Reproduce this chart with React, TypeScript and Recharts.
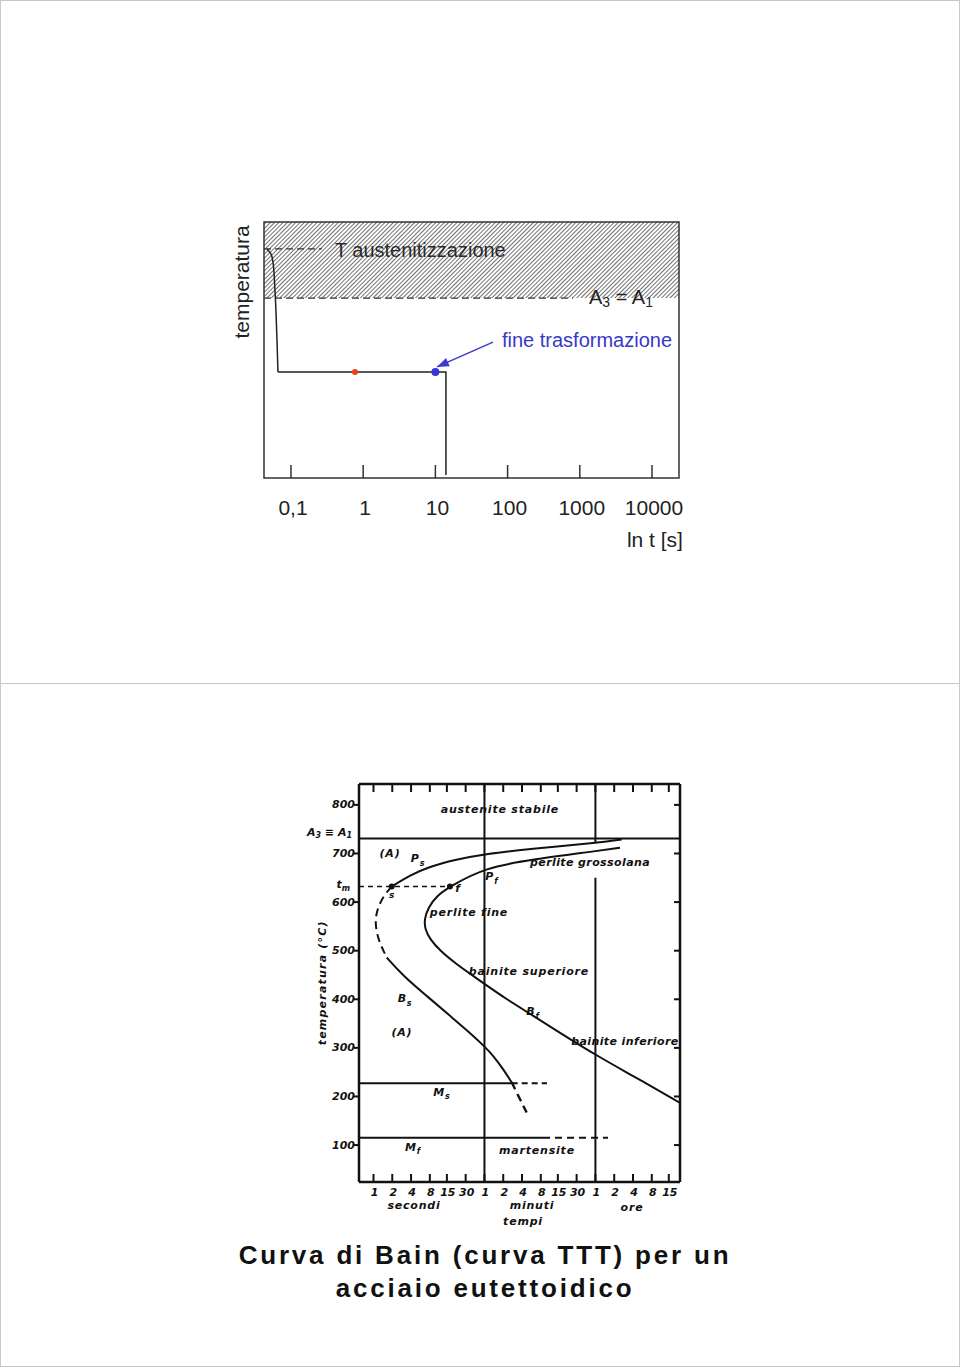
import React from 'react'
import { LineChart, Line, XAxis, YAxis, ReferenceArea, ReferenceLine, ReferenceDot } from 'recharts'

const SANS = '"Liberation Sans", Arial, Helvetica, sans-serif'
const SCAN = '"DejaVu Sans", "Liberation Sans", sans-serif'

// ---------- slide 1: trattamento isotermo schematico ----------
const holdDomain = [0.0423, 23650]
const holdTicks = [0.1, 1, 10, 100, 1000, 10000]
const holdTickLabels = ['0,1', '1', '10', '100', '1000', '10000']
const T_AUST = 89.5
const A3A1 = 70.3

const coolCurve = [
  { t: 0.0466, T: 89.5 },
  { t: 0.0529, T: 87.5 },
  { t: 0.0563, T: 84.4 },
  { t: 0.06, T: 73.4 },
  { t: 0.064, T: 53.9 },
  { t: 0.066, T: 41.4 },
]
const holdPath = [
  { t: 0.066, T: 41.4 },
  { t: 14, T: 41.4 },
  { t: 14, T: 1.2 },
]
const austLine = [{ t: 0.0423, T: T_AUST }, { t: 0.268, T: T_AUST }]
const a3a1Line = [{ t: 0.0423, T: A3A1 }, { t: 805, T: A3A1 }]
const arrowShaft = [{ t: 62.8, T: 53.1 }, { t: 10.5, T: 43.4 }]
const startDot = { t: 0.77, T: 41.4 }
const endDot = { t: 10, T: 41.4 }

// ---------- slide 2: curva di Bain ----------
const bainDomain = [0.586, 81600]
const bainTicks = [1, 2, 4, 8, 15, 30, 60, 120, 240, 480, 900, 1800, 3600, 7200, 14400, 28800, 54000]
const bainTickLabels = ['1', '2', '4', '8', '15', '30', '1', '2', '4', '8', '15', '30', '1', '2', '4', '8', '15']
const tempTicks = [100, 200, 300, 400, 500, 600, 700, 800]
const A1 = 731
const TM = 632
const MS = 227
const MF = 115

// inizio trasformazione (Ps -> Bs)
const psUpper = [
  { t: 9500, T: 729 },
  { t: 3776, T: 722 },
  { t: 364, T: 710 },
  { t: 61.2, T: 699 },
  { t: 21.5, T: 688 },
  { t: 7.12, T: 671 },
  { t: 3.85, T: 655 },
  { t: 1.96, T: 632 },
]
const psNose = [
  { t: 1.96, T: 632 },
  { t: 1.44, T: 613 },
  { t: 1.12, T: 582 },
  { t: 1.06, T: 555 },
  { t: 1.19, T: 524 },
  { t: 1.44, T: 500 },
  { t: 1.63, T: 486 },
]
const bsLower = [
  { t: 1.63, T: 486 },
  { t: 3.0, T: 448 },
  { t: 7.12, T: 407 },
  { t: 16.8, T: 366 },
  { t: 35.2, T: 331 },
  { t: 59, T: 304 },
  { t: 83.2, T: 284 },
  { t: 120, T: 256 },
  { t: 164, T: 229 },
]
const bsBelowMs = [
  { t: 164, T: 229 },
  { t: 197, T: 208 },
  { t: 285, T: 167 },
]
// fine trasformazione (Pf -> Bf)
const pfCurve = [
  { t: 8920, T: 712 },
  { t: 3776, T: 705 },
  { t: 364, T: 688 },
  { t: 61.2, T: 671 },
  { t: 16.8, T: 632 },
  { t: 10.3, T: 613 },
  { t: 7.55, T: 589 },
  { t: 6.52, T: 565 },
  { t: 6.69, T: 544 },
  { t: 8.04, T: 524 },
  { t: 11.6, T: 500 },
  { t: 21.5, T: 472 },
  { t: 39.7, T: 448 },
  { t: 61.2, T: 431 },
  { t: 136, T: 400 },
  { t: 364, T: 366 },
  { t: 975, T: 331 },
  { t: 3776, T: 284 },
  { t: 14560, T: 242 },
  { t: 81600, T: 187 },
]
const tmLine = [{ t: 0.586, T: TM }, { t: 16.8, T: TM }]
const msSolid = [{ t: 0.586, T: MS }, { t: 164, T: MS }]
const msDashed = [{ t: 164, T: MS }, { t: 603, T: MS }]
const mfSolid = [{ t: 0.586, T: MF }, { t: 674, T: MF }]
const mfDashed = [{ t: 811, T: MF }, { t: 5730, T: MF }]
const hourUpper = [{ t: 3600, T: 843 }, { t: 3600, T: 722 }]
const hourLower = [{ t: 3600, T: 650 }, { t: 3600, T: 24 }]
const keyPoints = [{ t: 1.96, T: TM }, { t: 16.8, T: TM }]

const bainNotes = [
  { t: 106, T: 790, text: 'austenite  stabile' },
  { t: 1.84, T: 701, text: '(A)' },
  { t: 5.17, T: 689, text: 'P', sub: 's' },
  { t: 79, T: 652, text: 'P', sub: 'f' },
  { t: 1.98, T: 614, text: 's', size: 9 },
  { t: 22.6, T: 627, text: 'f' },
  { t: 2950, T: 681, text: 'perlite grossolana', spacing: 0.4 },
  { t: 33.9, T: 578, text: 'perlite  fine' },
  { t: 310, T: 458, text: 'bainite  superiore' },
  { t: 3.2, T: 401, text: 'B', sub: 's' },
  { t: 360, T: 374, text: 'B', sub: 'f' },
  { t: 2.86, T: 331, text: '(A)' },
  { t: 10700, T: 314, text: 'bainite inferiore', spacing: 0.4 },
  { t: 12.5, T: 209, text: 'M', sub: 's' },
  { t: 4.3, T: 96, text: 'M', sub: 'f' },
  { t: 417, T: 88, text: 'martensite' },
  { t: 4.46, T: -25, text: 'secondi' },
  { t: 347, T: -25, text: 'minuti' },
  { t: 13900, T: -29, text: 'ore' },
  { t: 249, T: -58, text: 'tempi' },
]

const scanText = {
  fontFamily: SCAN,
  fontStyle: 'italic' as const,
  fontWeight: 700,
  fill: '#111',
}

function HoldTick(p: any) {
  const i = holdTicks.indexOf(p.payload.value)
  return (
    <g>
      <line x1={p.x} y1={p.y} x2={p.x} y2={p.y - 13} stroke="#333" strokeWidth={1.5} />
      <text x={p.x + 2} y={p.y + 29} textAnchor="middle" dominantBaseline="central" fontFamily={SANS} fontSize={21} fill="#222">
        {holdTickLabels[i]}
      </text>
    </g>
  )
}

function HoldChart() {
  const line = { dot: false, activeDot: false, isAnimationActive: false, dataKey: 'T' }
  return (
    <LineChart width={960} height={684} margin={{ top: 222, right: 281, bottom: 146, left: 224 }}>
      <defs>
        <pattern id="hatch" width={3} height={3} patternUnits="userSpaceOnUse" patternTransform="rotate(45)">
          <line x1={0} y1={0} x2={0} y2={3} stroke="#333" strokeWidth={1.4} />
        </pattern>
      </defs>
      <XAxis dataKey="t" type="number" scale="log" domain={holdDomain} ticks={holdTicks} interval={0} allowDataOverflow
        height={60} tickSize={0} tickMargin={0} tickLine={false} axisLine={false} tick={(p: any) => <HoldTick {...p} />} />
      <YAxis type="number" domain={[0, 100]} width={40} tick={false} tickLine={false} axisLine={false} allowDataOverflow />
      <ReferenceArea y1={A3A1} y2={100} fill="url(#hatch)" fillOpacity={1} stroke="none" />
      <ReferenceArea x1={holdDomain[0]} x2={holdDomain[1]} y1={0} y2={100} fill="none" stroke="#333" strokeWidth={1.5} />
      <Line {...line} data={austLine} type="linear" stroke="#333" strokeWidth={1.3} strokeDasharray="7 4" />
      <Line {...line} data={a3a1Line} type="linear" stroke="#333" strokeWidth={1.3} strokeDasharray="7 4" />
      <Line {...line} data={coolCurve} type="monotoneY" stroke="#222" strokeWidth={1.5} />
      <Line {...line} data={holdPath} type="linear" stroke="#222" strokeWidth={1.5} />
      <Line {...line} data={arrowShaft} type="linear" stroke="#3a3ad0" strokeWidth={1.5} />
      <ReferenceDot x={arrowShaft[1].t} y={arrowShaft[1].T} r={0}
        shape={(p: any) => (
          <polygon points="0,0 -12,-4.5 -12,4.5" transform={`translate(${p.cx},${p.cy}) rotate(156)`} fill="#3a3ad0" />
        )} />
      <ReferenceDot x={startDot.t} y={startDot.T} r={3} fill="#e8401c" stroke="none" />
      <ReferenceDot x={endDot.t} y={endDot.T} r={4} fill="#3535dd" stroke="none" />
      <ReferenceDot x={0.406} y={89.1} r={0}
        shape={(p: any) => (
          <text x={p.cx} y={p.cy} dominantBaseline="central" fontFamily={SANS} fontSize={20} fill="#2a2a2a">T austenitizzazione</text>
        )} />
      <ReferenceDot x={1340} y={70.7} r={0}
        shape={(p: any) => (
          <text x={p.cx} y={p.cy} dominantBaseline="central" fontFamily={SANS} fontSize={20} fill="#222">
            A<tspan fontSize={14} dy={5}>3</tspan><tspan dy={-5}> = A</tspan><tspan fontSize={14} dy={5}>1</tspan>
          </text>
        )} />
      <ReferenceDot x={83.5} y={53.9} r={0}
        shape={(p: any) => (
          <text x={p.cx} y={p.cy} dominantBaseline="central" fontFamily={SANS} fontSize={20} fill="#3838c8">fine trasformazione</text>
        )} />
      <ReferenceDot x={26850} y={-24.2} r={0} ifOverflow="visible"
        shape={(p: any) => (
          <text x={p.cx} y={p.cy} textAnchor="end" dominantBaseline="central" fontFamily={SANS} fontSize={21} fill="#222">ln t [s]</text>
        )} />
      <ReferenceDot x={0.0209} y={76.6} r={0} ifOverflow="visible"
        shape={(p: any) => (
          <text x={p.cx} y={p.cy} textAnchor="middle" dominantBaseline="central" transform={`rotate(-90 ${p.cx} ${p.cy})`}
            fontFamily={SANS} fontSize={21} fill="#222">temperatura</text>
        )} />
    </LineChart>
  )
}

function BainXTick(p: any) {
  const i = bainTicks.indexOf(p.payload.value)
  return (
    <g>
      <line x1={p.x} y1={p.y} x2={p.x} y2={p.y - 8} stroke="#111" strokeWidth={2} />
      <text x={p.x + 1} y={p.y + 10} textAnchor="middle" dominantBaseline="central" fontSize={11} {...scanText}>
        {bainTickLabels[i]}
      </text>
    </g>
  )
}

function BainTopTick(p: any) {
  return <line x1={p.x} y1={p.y} x2={p.x} y2={p.y + 8} stroke="#111" strokeWidth={2} />
}

function BainYTick(p: any) {
  const v = p.payload.value
  if (v === A1) {
    return (
      <text x={p.x - 7} y={p.y - 6} textAnchor="end" dominantBaseline="central" fontSize={11} {...scanText}>
        A<tspan fontSize={8} dy={3}>3</tspan><tspan dy={-3}> ≡ A</tspan><tspan fontSize={8} dy={3}>1</tspan>
      </text>
    )
  }
  if (v === TM) {
    return (
      <text x={p.x - 9} y={p.y - 2} textAnchor="end" dominantBaseline="central" fontSize={11} {...scanText}>
        t<tspan fontSize={8} dy={3}>m</tspan>
      </text>
    )
  }
  return (
    <g>
      <line x1={p.x - 5} y1={p.y} x2={p.x} y2={p.y} stroke="#111" strokeWidth={2} />
      <text x={p.x - 4} y={p.y} textAnchor="end" dominantBaseline="central" fontSize={11} {...scanText}>{v}</text>
    </g>
  )
}

function BainRightTick(p: any) {
  return <line x1={p.x} y1={p.y} x2={p.x - 6} y2={p.y} stroke="#111" strokeWidth={2} />
}

function BainNote({ cx, cy, note }: any) {
  const size = note.size || 11
  return (
    <text x={cx} y={cy} textAnchor="middle" dominantBaseline="central" fontSize={size}
      letterSpacing={note.spacing ?? 0.8} {...scanText}>
      {note.text}
      {note.sub && <tspan fontSize={8} dy={4}>{note.sub}</tspan>}
    </text>
  )
}

function BainChart() {
  const line = { dot: false, activeDot: false, isAnimationActive: false, dataKey: 'T', stroke: '#111', strokeWidth: 2 }
  return (
    <LineChart width={960} height={683} margin={{ top: 90, right: 260, bottom: 155, left: 309 }}>
      <XAxis dataKey="t" type="number" scale="log" domain={bainDomain} ticks={bainTicks} interval={0} allowDataOverflow
        height={30} tickSize={0} tickMargin={0} tickLine={false} axisLine={{ stroke: '#111', strokeWidth: 2.5 }}
        tick={(p: any) => <BainXTick {...p} />} />
      <XAxis xAxisId="top" orientation="top" dataKey="t" type="number" scale="log" domain={bainDomain} ticks={bainTicks}
        interval={0} allowDataOverflow height={10} tickSize={0} tickMargin={0} tickLine={false}
        axisLine={{ stroke: '#111', strokeWidth: 2.5 }} tick={(p: any) => <BainTopTick {...p} />} />
      <YAxis type="number" domain={[24, 843]} ticks={[...tempTicks, TM, A1]} interval={0} allowDataOverflow width={50}
        tickSize={0} tickMargin={0} tickLine={false} axisLine={{ stroke: '#111', strokeWidth: 2.5 }}
        tick={(p: any) => <BainYTick {...p} />} />
      <YAxis yAxisId="r" orientation="right" type="number" domain={[24, 843]} ticks={tempTicks} interval={0}
        allowDataOverflow width={20} tickSize={0} tickMargin={0} tickLine={false}
        axisLine={{ stroke: '#111', strokeWidth: 2.5 }} tick={(p: any) => <BainRightTick {...p} />} />

      <ReferenceLine y={A1} stroke="#111" strokeWidth={2} />
      <ReferenceLine x={60} stroke="#111" strokeWidth={2} />
      <Line {...line} data={hourUpper} type="linear" />
      <Line {...line} data={hourLower} type="linear" />

      <Line {...line} data={tmLine} type="linear" strokeWidth={1.5} strokeDasharray="5 4" />
      <Line {...line} data={msSolid} type="linear" />
      <Line {...line} data={msDashed} type="linear" strokeDasharray="6 4" />
      <Line {...line} data={mfSolid} type="linear" />
      <Line {...line} data={mfDashed} type="linear" strokeDasharray="7 5" />

      <Line {...line} data={psUpper} type="basis" />
      <Line {...line} data={psNose} type="basis" strokeDasharray="8 5" />
      <Line {...line} data={bsLower} type="basis" />
      <Line {...line} data={bsBelowMs} type="basis" strokeDasharray="8 5" strokeWidth={2.4} />
      <Line {...line} data={pfCurve} type="basis" />

      {keyPoints.map((k, i) => (
        <ReferenceDot key={'k' + i} x={k.t} y={k.T} r={3} fill="#111" stroke="none" />
      ))}
      {bainNotes.map((n, i) => (
        <ReferenceDot key={'n' + i} x={n.t} y={n.T} r={0} ifOverflow="visible"
          shape={(p: any) => <BainNote cx={p.cx} cy={p.cy} note={n} />} />
      ))}
      <ReferenceDot x={0.15} y={434} r={0} ifOverflow="visible"
        shape={(p: any) => (
          <text x={p.cx} y={p.cy} textAnchor="middle" dominantBaseline="central" transform={`rotate(-90 ${p.cx} ${p.cy})`}
            fontSize={11} letterSpacing={1.2} {...scanText}>temperatura  (°C)</text>
        )} />
    </LineChart>
  )
}

export default function App() {
  const frame = {
    position: 'absolute' as const,
    left: 0,
    width: 960,
    height: 684,
    boxSizing: 'border-box' as const,
    border: '1px solid #c8c8c8',
  }
  return (
    <div style={{ position: 'absolute', left: 0, top: 0, width: 960, height: 1367, background: '#fff', overflow: 'hidden' }}>
      <div style={{ ...frame, top: 0 }} />
      <div style={{ ...frame, top: 683 }} />
      <div style={{ position: 'absolute', left: 0, top: 0 }}>
        <HoldChart />
      </div>
      <div style={{ position: 'absolute', left: 0, top: 684 }}>
        <BainChart />
      </div>
      <div
        style={{
          position: 'absolute',
          left: 0,
          top: 1239,
          width: 970,
          textAlign: 'center',
          fontFamily: SANS,
          fontWeight: 700,
          fontSize: 26,
          lineHeight: '33px',
          letterSpacing: 2.8,
          color: '#111',
        }}
      >
        Curva di Bain (curva TTT) per un
        <br />
        acciaio eutettoidico
      </div>
    </div>
  )
}
